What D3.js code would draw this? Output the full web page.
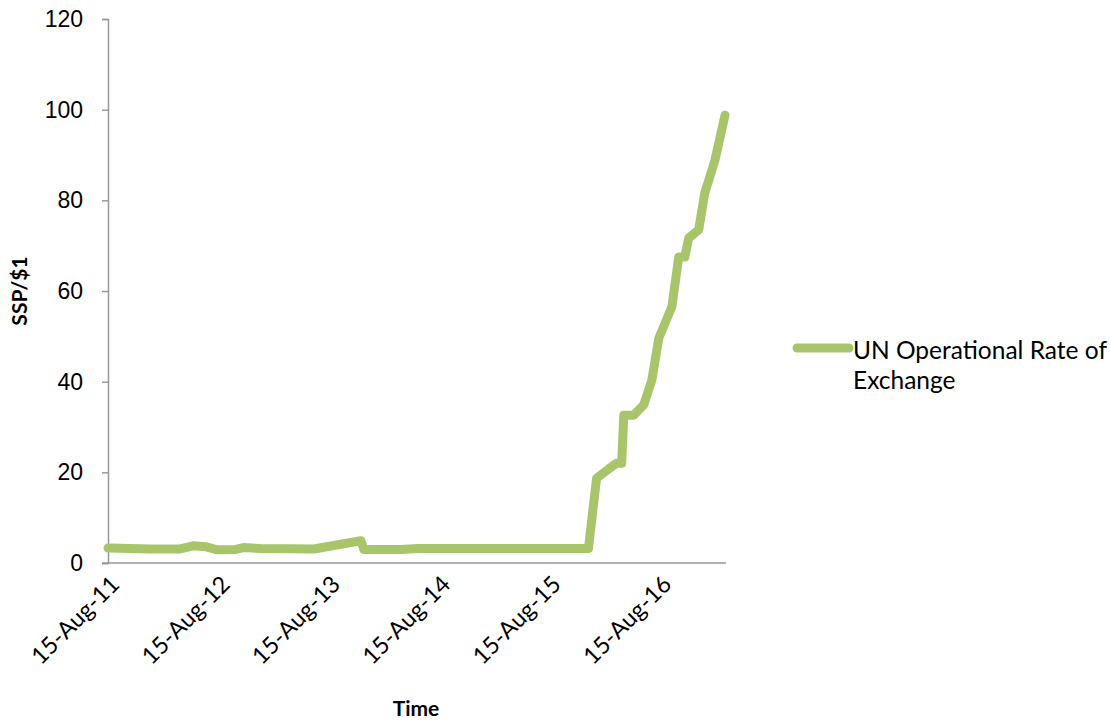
<!DOCTYPE html>
<html>
<head>
<meta charset="utf-8">
<script src="https://cdn.jsdelivr.net/npm/d3@7"></script>
<style>
  body { margin: 0; background: #fff; }
  svg { font-family: Lato, "Open Sans", sans-serif; }
</style>
</head>
<body>
<div id="chart"></div>
<script>
// Data
const dates = [
  "2011-08-15", "2011-10-27", "2012-01-01", "2012-04-10", "2012-05-23",
  "2012-07-02", "2012-08-11", "2012-10-10", "2012-11-05", "2013-01-01",
  "2013-06-26", "2013-11-29", "2013-12-09", "2014-04-10", "2014-06-06",
  "2015-12-22", "2016-01-18", "2016-03-01", "2016-03-24", "2016-04-10",
  "2016-04-17", "2016-05-20", "2016-06-22", "2016-07-19", "2016-08-11",
  "2016-09-23", "2016-10-16", "2016-11-05", "2016-11-18", "2016-12-21",
  "2017-01-10", "2017-02-13", "2017-03-18"
];
const rates = [
  3.3, 3.2, 3.1, 3.1, 3.8,
  3.6, 2.9, 3.0, 3.4, 3.2,
  3.1, 4.9, 3.0, 3.0, 3.2,
  3.2, 18.7, 20.9, 22.0, 22.0,
  32.6, 32.6, 34.9, 40.4, 49.6,
  56.5, 67.5, 67.5, 71.7, 73.5,
  81.6, 88.9, 98.8
];
const yTicks = [0, 20, 40, 60, 80, 100, 120];
const xTickDates = ["2011-08-15", "2012-08-15", "2013-08-15", "2014-08-15", "2015-08-15", "2016-08-15"];
const seriesName = ["UN Operational Rate of", "Exchange"];

const width = 1110, height = 721;
const plotLeft = 108, plotRight = 725, plotTop = 19, plotBottom = 563;
const lineColor = "#a9c56b";
const axisColor = "#999999";

const parse = d3.timeParse("%Y-%m-%d");
const fmt = d3.timeFormat("%d-%b-%y");
const data = dates.map((d, i) => ({ date: parse(d), value: rates[i] }));

const svg = d3.select("#chart").append("svg")
  .attr("width", width)
  .attr("height", height);

const x = d3.scaleTime()
  .domain([parse(dates[0]), parse(dates[dates.length - 1])])
  .range([plotLeft, plotRight]);

const y = d3.scaleLinear()
  .domain([0, 120])
  .range([plotBottom, plotTop]);

// Y axis
const yAxis = svg.append("g")
  .attr("transform", `translate(${plotLeft},0)`)
  .call(d3.axisLeft(y).tickValues(yTicks).tickSize(6).tickPadding(19));
yAxis.select(".domain").attr("stroke", axisColor).attr("stroke-width", 1.5);
yAxis.selectAll(".tick line").attr("stroke", axisColor).attr("stroke-width", 1.5);
yAxis.selectAll(".tick text")
  .attr("fill", "#000")
  .style("font-size", "23px");

// X axis line (no tick marks)
svg.append("line")
  .attr("x1", plotLeft - 6).attr("x2", plotRight + 1)
  .attr("y1", plotBottom).attr("y2", plotBottom)
  .attr("stroke", axisColor)
  .attr("stroke-width", 1.5);

// X tick labels rotated
svg.selectAll(".xlabel")
  .data(xTickDates.map(parse))
  .enter()
  .append("text")
  .attr("class", "xlabel")
  .attr("transform", d => `translate(${x(d) + 7},${plotBottom + 17}) rotate(-45)`)
  .attr("text-anchor", "end")
  .attr("dy", "0.35em")
  .style("font-size", "23.5px")
  .text(d => fmt(d));

// Axis titles
svg.append("text")
  .attr("transform", `translate(27,${(plotTop + plotBottom) / 2}) rotate(-90)`)
  .attr("text-anchor", "middle")
  .style("font-size", "21px")
  .style("font-weight", "bold")
  .text("SSP/$1");

svg.append("text")
  .attr("x", 416)
  .attr("y", 716)
  .attr("text-anchor", "middle")
  .style("font-size", "21px")
  .style("font-weight", "bold")
  .text("Time");

// Series line
const line = d3.line()
  .x(d => x(d.date))
  .y(d => y(d.value));

svg.append("path")
  .datum(data)
  .attr("d", line)
  .attr("fill", "none")
  .attr("stroke", lineColor)
  .attr("stroke-width", 9)
  .attr("stroke-linejoin", "round")
  .attr("stroke-linecap", "round");

// Legend
const legend = svg.append("g").attr("transform", "translate(797,348)");
legend.append("line")
  .attr("x1", 0).attr("x2", 52)
  .attr("y1", 0).attr("y2", 0)
  .attr("stroke", lineColor)
  .attr("stroke-width", 9)
  .attr("stroke-linecap", "round");
legend.selectAll("text")
  .data(seriesName)
  .enter()
  .append("text")
  .attr("x", 56)
  .attr("y", (d, i) => 11 + i * 30)
  .style("font-size", "24.5px")
  .text(d => d);
</script>
</body>
</html>
